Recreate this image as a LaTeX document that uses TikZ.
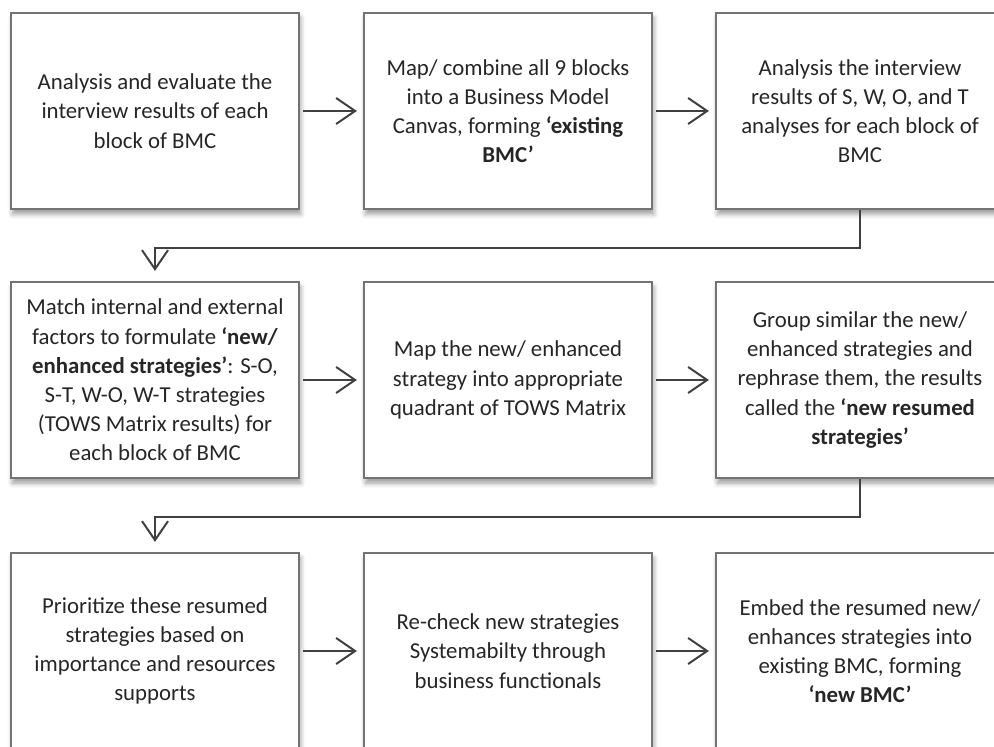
\documentclass[tikz,border=0pt]{standalone}
\usepackage{fontspec}
\setmainfont{Carlito}
\usetikzlibrary{arrows.meta}
\usetikzlibrary{shadows.blur}

\tikzset{
    stage/.style={draw=black!55, line width=1.1pt, fill=white, text=black!85,
        minimum width=144pt, minimum height=98pt, align=center,
        font=\fontsize{11.4}{14.6}\selectfont,
        blur shadow={shadow xshift=0.8pt, shadow yshift=-2.5pt, shadow blur radius=2.5pt}},
    flow/.style={draw=black!75, line width=1pt, shorten <=1.5pt, shorten >=3pt,
        -{Straight Barb[length=9.5pt,width=13pt,line width=1pt]}}
}

\begin{document}
\begin{tikzpicture}[x=0.5pt,y=-0.5pt]

            %\draw [help lines] (0,0) grid (994,747);
            \useasboundingbox (0,0) rectangle (994,747);

            \path   (155,111) node (a) [stage] {Analysis and evaluate the\\ interview results of each\\ block of BMC}
                    (508,111) node (b) [stage] {Map/ combine all 9 blocks\\ into a Business Model\\ Canvas, forming \textbf{‘existing}\\ \textbf{BMC’}}
                    (860,111) node (c) [stage] {Analysis the interview\\ results of S, W, O, and T\\ analyses for each block of\\ BMC};

            \path   (155,380) node (d) [stage] {Match internal and external\\ factors to formulate \textbf{‘new/}\\ \textbf{enhanced strategies’}: S-O,\\ S-T, W-O, W-T strategies\\ (TOWS Matrix results) for\\ each block of BMC}
                    (508,380) node (e) [stage] {Map the new/ enhanced\\ strategy into appropriate\\ quadrant of TOWS Matrix}
                    (860,380) node (f) [stage] {Group similar the new/\\ enhanced strategies and\\ rephrase them, the results\\ called the \textbf{‘new resumed}\\ \textbf{strategies’}};

            \path   (155,651) node (g) [stage] {Prioritize these resumed\\ strategies based on\\ importance and resources\\ supports}
                    (508,651) node (h) [stage] {Re-check new strategies\\ Systemabilty through\\ business functionals}
                    (860,651) node (i) [stage] {Embed the resumed new/\\ enhances strategies into\\ existing BMC, forming\\ \textbf{‘new BMC’}};

            \draw[flow] (node cs:name=a) -- (node cs:name=b);
            \draw[flow] (node cs:name=b) -- (node cs:name=c);
            \draw[flow, shorten <=0pt, shorten >=5pt] (c.south) -- ++(0,38) -| (d.north);

            \draw[flow] (node cs:name=d) -- (node cs:name=e);
            \draw[flow] (node cs:name=e) -- (node cs:name=f);
            \draw[flow, shorten <=0pt, shorten >=5pt] (f.south) -- ++(0,38) -| (g.north);

            \draw[flow] (node cs:name=g) -- (node cs:name=h);
            \draw[flow] (node cs:name=h) -- (node cs:name=i);
        \end{tikzpicture}
\end{document}
